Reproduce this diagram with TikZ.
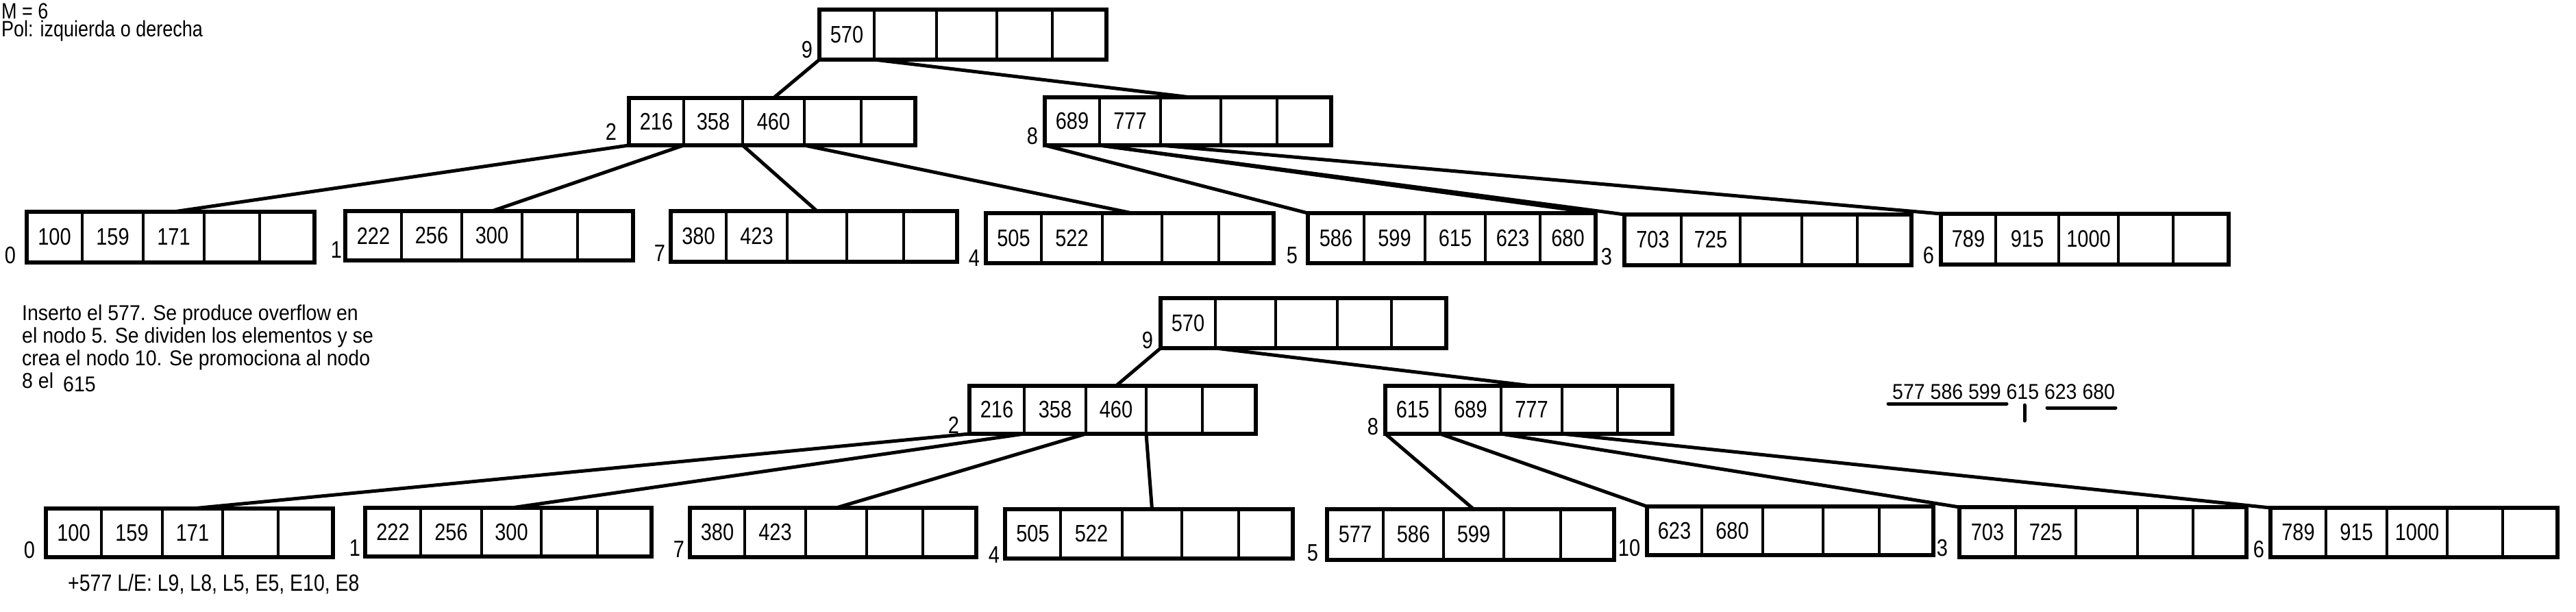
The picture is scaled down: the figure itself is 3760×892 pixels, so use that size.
\documentclass[tikz,border=0pt]{standalone}
\usepackage{graphicx}
\usepackage{fontspec}
\setmainfont{Liberation Sans}
\newcommand\tall[1]{\scalebox{1}[1.2]{#1}}
\newcommand\semitall[1]{\scalebox{1}[1.1]{#1}}
\newcommand\btree[4]{%
  \foreach \i/\xa/\xb/\v in {#4}{%
    \node[cell, minimum width={\xb-\xa}, minimum height={#3-#2}] (#1-\i) at ({(\xa+\xb)/2},{(#2+#3)/2}) {\tall{\v}};
  }%
  \draw[outline] (#1-1.north west) rectangle (#1-5.south east);
}
\begin{document}
\begin{tikzpicture}[x=1pt,y=-1pt,
  cell/.style={draw, line width=4.5pt, inner sep=0pt, outer sep=0pt, font=\fontsize{29}{33}\selectfont},
  outline/.style={line width=6pt},
  conn/.style={line width=5pt},
  lab/.style={inner sep=0pt, font=\fontsize{29}{33}\selectfont},
  txt/.style={inner sep=0pt, anchor=base west, font=\fontsize{28.5}{33}\selectfont},
  ulmark/.style={line width=5pt, line cap=round}]
\useasboundingbox (0,0) rectangle (3760,892);

% ---- top tree ----
\btree{T9}{14}{87}{1/1196/1276/570,2/1276/1367/{},3/1367/1455/{},4/1455/1536/{},5/1536/1615/{}}
\btree{T2}{143}{212}{1/918/998/216,2/998/1084/358,3/1084/1174/460,4/1174/1257/{},5/1257/1336/{}}
\btree{T8}{142}{212}{1/1525/1605/689,2/1605/1694/777,3/1694/1782/{},4/1782/1864/{},5/1864/1943/{}}
\btree{T0}{309}{383}{1/39/120/100,2/120/209/159,3/209/298/171,4/298/379/{},5/379/459/{}}
\btree{T1}{308}{380}{1/504/586/222,2/586/674/256,3/674/762/300,4/762/843/{},5/843/924/{}}
\btree{T7}{308}{382}{1/979/1060/380,2/1060/1149/423,3/1149/1236/{},4/1236/1319/{},5/1319/1397/{}}
\btree{T4}{311}{384}{1/1439/1520/505,2/1520/1609/522,3/1609/1696/{},4/1696/1779/{},5/1779/1859/{}}
\btree{T5}{311}{384}{1/1909/1991/586,2/1991/2080/599,3/2080/2168/615,4/2168/2248/623,5/2248/2329/680}
\btree{T3}{313}{387}{1/2371/2454/703,2/2454/2540/725,3/2540/2630/{},4/2630/2711/{},5/2711/2790/{}}
\btree{T6}{312}{386}{1/2833/2913/789,2/2913/3005/915,3/3005/3092/1000,4/3092/3172/{},5/3172/3253/{}}

\node[lab] (lT9) at (1178,73) {\tall{9}};
\node[lab] (lT2) at (892,192) {\tall{2}};
\node[lab] (lT8) at (1507,199) {\tall{8}};
\node[lab] (lT0) at (15,373) {\tall{0}};
\node[lab] (lT1) at (491,365) {\tall{1}};
\node[lab] (lT7) at (963,370) {\tall{7}};
\node[lab] (lT4) at (1422,377) {\tall{4}};
\node[lab] (lT5) at (1886,373) {\tall{5}};
\node[lab] (lT3) at (2345,375) {\tall{3}};
\node[lab] (lT6) at (2815,373) {\tall{6}};

\draw[conn] (T9-1.south west) -- (T2-3.north);
\draw[conn] (T9-1.south east) -- (T8-3.north);
\draw[conn] (T2-1.south west) -- (T0-3.north);
\draw[conn] (T2-1.south east) -- (T1-3.north);
\draw[conn] (T2-2.south east) -- (T7-3.north);
\draw[conn] (T2-3.south east) -- (T4-3.north);
\draw[conn] (T8-1.south west) -- (T5-1.north west);
\draw[conn] (T8-1.south east) -- (T5-5.north east);
\draw[conn] (T8-1.south east) -- (T3-1.north west);
\draw[conn] (T8-2.south east) -- (T6-1.north west);

% ---- bottom tree ----
\btree{B9}{435}{508}{1/1694/1774/570,2/1774/1862/{},3/1862/1952/{},4/1952/2031/{},5/2031/2111/{}}
\btree{B2}{563}{633}{1/1415/1495/216,2/1495/1585/358,3/1585/1673/460,4/1673/1755/{},5/1755/1833/{}}
\btree{B8}{563}{633}{1/2022/2102/615,2/2102/2191/689,3/2191/2280/777,4/2280/2361/{},5/2361/2441/{}}
\btree{B0}{742}{813}{1/67/148/100,2/148/237/159,3/237/325/171,4/325/406/{},5/406/486/{}}
\btree{B1}{741}{812}{1/533/614/222,2/614/703/256,3/703/790/300,4/790/872/{},5/872/951/{}}
\btree{B7}{741}{813}{1/1007/1087/380,2/1087/1176/423,3/1176/1265/{},4/1265/1347/{},5/1347/1425/{}}
\btree{B4}{743}{815}{1/1467/1548/505,2/1548/1638/522,3/1638/1725/{},4/1725/1808/{},5/1808/1887/{}}
\btree{B5}{743}{817}{1/1937/2019/577,2/2019/2107/586,3/2107/2195/599,4/2195/2278/{},5/2278/2356/{}}
\btree{B10}{739}{810}{1/2404/2484/623,2/2484/2573/680,3/2573/2661/{},4/2661/2743/{},5/2743/2822/{}}
\btree{B3}{740}{813}{1/2860/2942/703,2/2942/3030/725,3/3030/3120/{},4/3120/3201/{},5/3201/3279/{}}
\btree{B6}{741}{813}{1/3314/3395/789,2/3395/3484/915,3/3484/3572/1000,4/3572/3653/{},5/3653/3733/{}}

\node[lab] (lB9) at (1675,497) {\tall{9}};
\node[lab] (lB2) at (1392,620) {\tall{2}};
\node[lab] (lB8) at (2004,623) {\tall{8}};
\node[lab] (lB0) at (43,803) {\tall{0}};
\node[lab] (lB1) at (518,800) {\tall{1}};
\node[lab] (lB7) at (991,802) {\tall{7}};
\node[lab] (lB4) at (1451,810) {\tall{4}};
\node[lab] (lB5) at (1916,807) {\tall{5}};
\node[lab] (lB10) at (2378,800) {\tall{10}};
\node[lab] (lB3) at (2835,800) {\tall{3}};
\node[lab] (lB6) at (3297,802) {\tall{6}};

\draw[conn] (B9-1.south west) -- (B2-3.north);
\draw[conn] (B9-1.south east) -- (B8-3.north);
\draw[conn] (B2-1.south west) -- (B0-3.north);
\draw[conn] (B2-1.south east) -- (B1-3.north);
\draw[conn] (B2-2.south east) -- (B7-3.north);
\draw[conn] (B2-3.south east) -- (B4-3.north);
\draw[conn] (B8-1.south west) -- (B5-3.north);
\draw[conn] (B8-1.south east) -- (B10-1.north west);
\draw[conn] (B8-2.south east) -- (B3-1.north west);
\draw[conn] (B8-3.south east) -- (B6-1.north west);

% ---- texts ----
\node[txt, font=\fontsize{27}{32}\selectfont] (m6) at (2,27) {\tall{M = 6}};
\node[txt, font=\fontsize{27}{32}\selectfont] (pol) at (2,53) {\tall{Pol: izquierda o derecha}};
\node[txt] (p1) at (32,467) {\semitall{Inserto el 577. Se produce overflow en}};
\node[txt] (p2) at (32,500) {\semitall{el nodo 5. Se dividen los elementos y se}};
\node[txt] (p3) at (32,533) {\semitall{crea el nodo 10. Se promociona al nodo}};
\node[txt] (p4) at (32,566) {\semitall{8 el}};
\node[txt] (p4b) at (92,571) {\semitall{615}};
\node[txt] (le) at (99,862) {\tall{+577 L/E: L9, L8, L5, E5, E10, E8}};
\node[txt] (seq) at (2762,582) {\semitall{577 586 599 615 623 680}};
\coordinate (u1a) at (2756,589); \coordinate (u1b) at (2929,589);
\coordinate (tka) at (2955,591); \coordinate (tkb) at (2955,614);
\coordinate (u2a) at (2988,595); \coordinate (u2b) at (3088,595);
\draw[ulmark] (u1a) -- (u1b);
\draw[ulmark] (tka) -- (tkb);
\draw[ulmark] (u2a) -- (u2b);
\end{tikzpicture}
\end{document}
